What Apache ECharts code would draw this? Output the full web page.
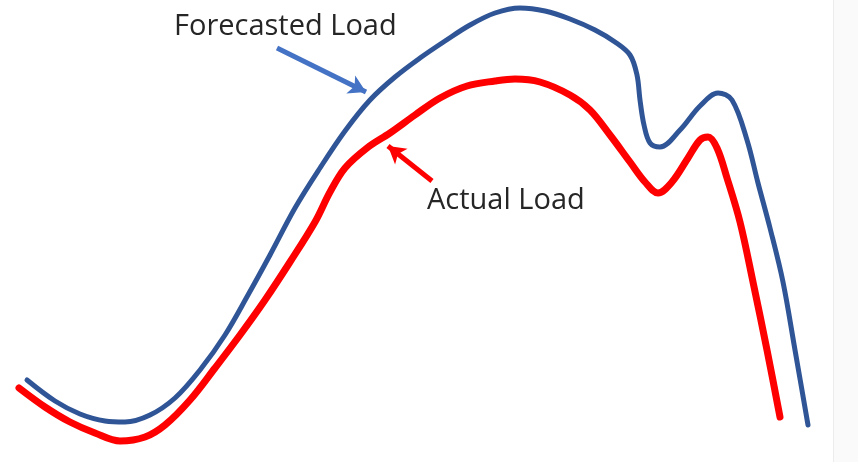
<!DOCTYPE html>
<html>
<head>
<meta charset="utf-8">
<script src="https://cdn.jsdelivr.net/npm/echarts@6/dist/echarts.min.js"></script>
<style>html,body{margin:0;padding:0;background:#fff}#c{width:858px;height:462px}</style>
</head>
<body>
<div id="c"></div>
<script>
// Forecasted load curve: [time, depth from top]
const forecastX = [27,55,80,105,125,150,175,200,225,248,270,295,320,345,370,395,420,445,470,495,520,545,570,595,615,630,637,640,644,650,660,680,700,718,732,747,758,770,783,795,808];
const forecastY = [380,401,414,421,422,415,398,370,335,295,255,208,168,131,100,77,58,41,25,13,8,11,19,30,42,55,75,100,125,143,147,130,106,93,100,140,183,228,282,350,425];
// Actual load curve
const actualX = [19,45,70,95,120,145,165,190,215,240,265,290,315,330,345,367,390,415,440,467,495,515,540,570,590,610,630,645,658,672,688,700,708,717,727,740,753,767,780];
const actualY = [388,407,422,433,441,437,425,400,368,335,300,262,222,192,168,148,133,115,98,86,81,79,82,95,110,135,162,182,193,182,158,140,137,148,178,222,282,350,417];
const H = 462;
const labels = { forecast: 'Forecasted Load', actual: 'Actual Load' };

const toPts = (xs, ys) => xs.map((x, i) => [x, H - ys[i]]);

const chart = echarts.init(document.getElementById('c'));
chart.setOption({
  animation: false,
  backgroundColor: '#ffffff',
  grid: { left: 0, right: 0, top: 0, bottom: 0 },
  xAxis: { type: 'value', min: 0, max: 858, show: false },
  yAxis: { type: 'value', min: 0, max: H, show: false },
  graphic: [
    { type: 'rect', shape: { x: 833, y: 0, width: 25, height: 462 }, style: { fill: '#fafafa' }, z: -1 },
    { type: 'line', shape: { x1: 833.5, y1: 0, x2: 833.5, y2: 462 }, style: { stroke: '#ececec', lineWidth: 1 }, z: -1 },
    { type: 'text', x: 174, y: 27, style: { text: labels.forecast, font: '29px "Open Sans", sans-serif', fill: '#262626', textVerticalAlign: 'middle' } },
    { type: 'text', x: 427, y: 201, style: { text: labels.actual, font: '29px "Open Sans", sans-serif', fill: '#262626', textVerticalAlign: 'middle' } }
  ],
  series: [
    {
      type: 'line', name: labels.actual, data: toPts(actualX, actualY), smooth: 0.35, showSymbol: false,
      lineStyle: { color: '#ff0000', width: 7, cap: 'round', join: 'round' },
      markLine: { silent: true, symbol: ['none', 'arrow'], symbolSize: [15, 17], label: { show: false },
        lineStyle: { color: '#ff0000', width: 5, type: 'solid' },
        data: [[{ coord: [432, H - 181] }, { coord: [388, H - 146] }]] }
    },
    {
      type: 'line', name: labels.forecast, data: toPts(forecastX, forecastY), smooth: 0.35, showSymbol: false,
      lineStyle: { color: '#2f5597', width: 5, cap: 'round', join: 'round' },
      markLine: { silent: true, symbol: ['none', 'arrow'], symbolSize: [15, 17], label: { show: false },
        lineStyle: { color: '#4472c4', width: 5, type: 'solid' },
        data: [[{ coord: [277, H - 48] }, { coord: [366, H - 92] }]] }
    }
  ]
});
</script>
</body>
</html>
